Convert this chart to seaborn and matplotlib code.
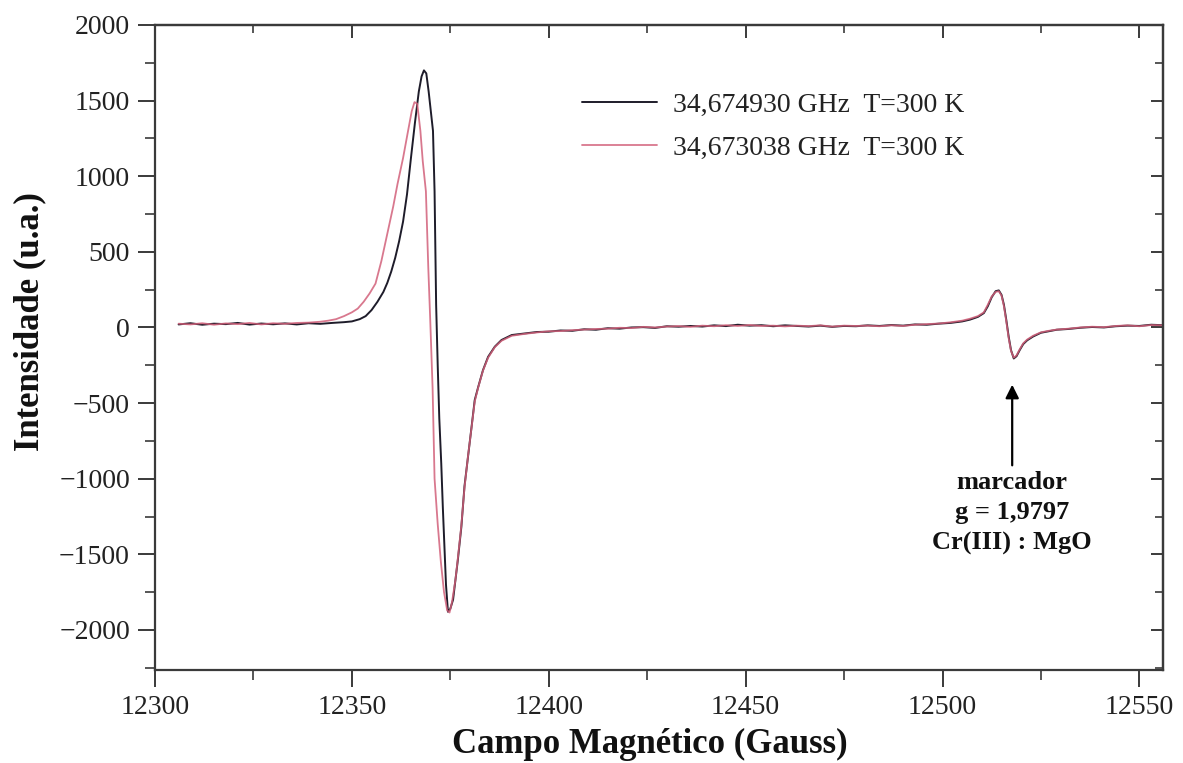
import numpy as np
import pandas as pd
import matplotlib
matplotlib.use("Agg")
import matplotlib.pyplot as plt
from matplotlib.ticker import MultipleLocator
import seaborn as sns

# ---------------- data ----------------
label_black = "34,674930 GHz  T=300 K"
label_red = "34,673038 GHz  T=300 K"

field_black = [12306, 12309, 12312, 12315, 12318, 12321, 12324, 12327, 12330, 12333,
               12336, 12339, 12342, 12345, 12348, 12350, 12352, 12353.5, 12355, 12356.5,
               12358, 12359, 12360, 12361, 12362, 12363, 12364, 12365, 12366, 12367,
               12367.7, 12368.3, 12368.9, 12369.5, 12370.1, 12370.6, 12371.0, 12371.4, 12371.8, 12372.2,
               12372.7, 12373.1, 12373.5, 12373.9, 12374.4, 12375.0, 12375.7, 12376.3, 12376.9, 12377.8,
               12378.6, 12379.5, 12380.4, 12381.2, 12382.1, 12383.3, 12384.6, 12386.3, 12388, 12390.6,
               12394, 12397, 12400, 12403, 12406, 12409, 12412, 12415, 12418, 12421,
               12424, 12427, 12430, 12433, 12436, 12439, 12442, 12445, 12448, 12451,
               12454, 12457, 12460, 12463, 12466, 12469, 12472, 12475, 12478, 12481,
               12484, 12487, 12490, 12493, 12496, 12499, 12502, 12505, 12507, 12509,
               12510.5, 12511.5, 12512.5, 12513.5, 12514.3, 12515, 12515.6, 12516.2, 12516.8, 12517.4,
               12518.1, 12518.8, 12519.6, 12520.5, 12521.5, 12523, 12525, 12527, 12529, 12532,
               12535, 12538, 12541, 12544, 12547, 12550, 12553, 12556]
intens_black = [20, 28, 18, 25, 22, 30, 19, 26, 21, 27,
                20, 28, 24, 30, 35, 40, 55, 75, 115, 170,
                235, 295, 370, 460, 570, 700, 880, 1120, 1350, 1560,
                1660, 1700, 1680, 1560, 1420, 1300, 900, 150, -250, -600,
                -900, -1190, -1450, -1700, -1880, -1860, -1800, -1670, -1540, -1320,
                -1050, -855, -657, -480, -392, -282, -194, -127, -83, -50,
                -39, -30, -28, -20, -22, -12, -15, -5, -8, 0,
                2, -3, 8, 5, 10, 6, 14, 9, 18, 12,
                15, 8, 14, 10, 6, 12, 4, 10, 8, 14,
                10, 16, 12, 20, 18, 25, 30, 40, 52, 70,
                95, 140, 200, 240, 245, 215, 150, 50, -60, -150,
                -205, -190, -150, -110, -85, -60, -35, -25, -15, -10,
                -2, 3, 0, 8, 12, 10, 18, 15]

field_red = [12306, 12309, 12312, 12315, 12318, 12321, 12324, 12327, 12330, 12333,
             12336, 12339, 12342, 12344, 12346, 12348, 12350, 12351.5, 12353, 12354.5,
             12356, 12357.5, 12359, 12360.5, 12361.6, 12363, 12364.2, 12365.2, 12365.9, 12366.6,
             12367.4, 12368.0, 12368.8, 12369.4, 12369.9, 12370.5, 12371.0, 12371.8, 12372.6, 12373.4,
             12374.2, 12374.8, 12375.4, 12376.3, 12376.9, 12377.8, 12378.6, 12379.5, 12380.4, 12381.2,
             12382.1, 12383.3, 12384.6, 12386.3, 12388, 12390.6, 12394, 12397, 12400, 12403,
             12406, 12409, 12412, 12415, 12418, 12421, 12424, 12427, 12430, 12433,
             12436, 12439, 12442, 12445, 12448, 12451, 12454, 12457, 12460, 12463,
             12466, 12469, 12472, 12475, 12478, 12481, 12484, 12487, 12490, 12493,
             12496, 12499, 12502, 12505, 12507, 12509, 12510.5, 12511.5, 12512.5, 12513.5,
             12514.3, 12515, 12515.6, 12516.2, 12516.8, 12517.4, 12518.1, 12518.8, 12519.6, 12520.5,
             12521.5, 12523, 12525, 12527, 12529, 12532, 12535, 12538, 12541, 12544,
             12547, 12550, 12553, 12556]
intens_red = [25, 20, 28, 18, 27, 22, 30, 20, 28, 24,
              30, 32, 38, 45, 55, 75, 100, 125, 170, 225,
              290, 440, 620, 800, 950, 1120, 1290, 1430, 1490, 1480,
              1300, 1100, 900, 400, 50, -400, -1000, -1300, -1550, -1750,
              -1870, -1885, -1820, -1670, -1530, -1310, -1060, -850, -660, -490,
              -395, -285, -200, -130, -88, -55, -42, -33, -25, -24,
              -18, -14, -10, -8, -2, -4, 4, 0, 6, 9,
              4, 12, 8, 15, 10, 16, 10, 12, 7, 12,
              9, 14, 6, 12, 10, 12, 8, 14, 10, 18,
              22, 26, 34, 45, 58, 75, 100, 150, 205, 235,
              240, 210, 140, 40, -70, -155, -200, -185, -145, -105,
              -80, -55, -32, -22, -14, -8, 0, 5, 2, 10,
              14, 8, 16, 14]

x_ticks = [12300, 12350, 12400, 12450, 12500, 12550]
y_ticks = [-2000, -1500, -1000, -500, 0, 500, 1000, 1500, 2000]
marker_text = "marcador\ng = 1,9797\nCr(III) : MgO"
marker_field = 12517.7

# ---------------- figure ----------------
sns.set_theme(style="ticks")
plt.rcParams["font.family"] = ["Liberation Serif", "DejaVu Serif"]

fig = plt.figure(figsize=(11.83, 7.63), dpi=100)
ax = fig.add_axes([155 / 1183, 1 - 670 / 763, (1163 - 155) / 1183, (670 - 25) / 763])

sns.lineplot(x=field_black, y=intens_black, ax=ax, color="#1e1c2a", lw=1.4,
             estimator=None, label=label_black)
sns.lineplot(x=field_red, y=intens_red, ax=ax, color="#d2607a", lw=1.3, alpha=0.85,
             estimator=None, label=label_red)

ax.set_xlim(12300, 12556)
ax.set_ylim(-2265, 2000)
ax.set_xticks(x_ticks)
ax.set_yticks(y_ticks)
ax.xaxis.set_minor_locator(MultipleLocator(25))
ax.yaxis.set_minor_locator(MultipleLocator(250))

spine_col = "#3a3a3a"
for s in ax.spines.values():
    s.set_visible(True)
    s.set_linewidth(1.6)
    s.set_color(spine_col)

ax.tick_params(which="major", direction="out", length=12, width=1.4, color=spine_col,
               labelsize=20, labelcolor="#222222", pad=6)
ax.tick_params(which="minor", direction="out", length=7, width=1.2, color=spine_col)

secx = ax.secondary_xaxis("top")
secx.set_xticks(x_ticks)
secx.xaxis.set_minor_locator(MultipleLocator(25))
secx.tick_params(which="major", direction="in", length=9, width=1.4, color=spine_col, labeltop=False)
secx.tick_params(which="minor", direction="in", length=6, width=1.2, color=spine_col)
secx.spines["top"].set_linewidth(1.6)
secx.spines["top"].set_color(spine_col)

secy = ax.secondary_yaxis("right")
secy.set_yticks(y_ticks)
secy.yaxis.set_minor_locator(MultipleLocator(250))
secy.tick_params(which="major", direction="in", length=9, width=1.4, color=spine_col, labelright=False)
secy.tick_params(which="minor", direction="in", length=6, width=1.2, color=spine_col)
secy.spines["right"].set_linewidth(1.6)
secy.spines["right"].set_color(spine_col)

ax.set_xlabel("Campo Magnético (Gauss)", fontsize=25, fontweight="bold", color="#111111")
ax.set_ylabel("Intensidade (u.a.)", fontsize=25, fontweight="bold", color="#111111")
ax.xaxis.set_label_coords(0.491, -0.09)
ax.yaxis.set_label_coords(-0.108, 0.54)

leg = ax.legend(loc="upper left", bbox_to_anchor=(0.424, 0.895), frameon=False,
                fontsize=20, handlelength=2.7, handletextpad=0.55, labelspacing=0.62,
                borderpad=0, borderaxespad=0)
for t in leg.get_texts():
    t.set_color("#222222")

ax.annotate("", xy=(marker_field, -360), xytext=(marker_field, -930),
            arrowprops=dict(arrowstyle="-|>", color="black", lw=1.6, mutation_scale=20))
ax.text(marker_field, -950, marker_text, ha="center", va="top", fontsize=19,
        fontweight="bold", linespacing=1.4, color="#111111")

fig.savefig("out.png", dpi=100)
